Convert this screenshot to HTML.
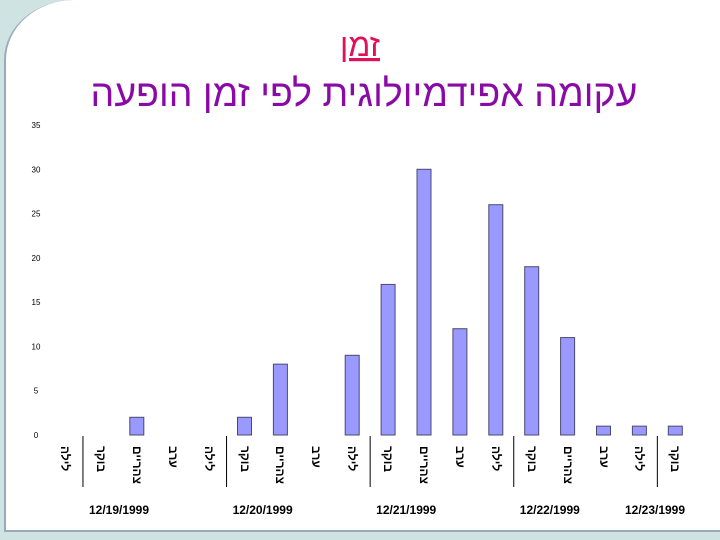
<!DOCTYPE html>
<html><head><meta charset="utf-8"><style>
body{margin:0;width:720px;height:540px;overflow:hidden;background:#cfe3e3;font-family:"Liberation Sans",sans-serif}
#slide{position:absolute;left:4px;top:0;width:716px;height:530px;background:#fff;border-top-left-radius:70px 60px;border-left:2px solid #9ab;border-bottom:2px solid #9ab}
.cat{position:absolute;top:446px;transform-origin:0 0;transform:rotate(90deg);white-space:nowrap;font-size:12px;font-weight:bold;direction:rtl;font-family:"Liberation Sans","Noto Sans CJK SC",sans-serif;line-height:14px}
</style></head><body>
<div id="slide"></div>
<svg width="720" height="540" style="position:absolute;left:0;top:0">
<text x="360" y="56" text-anchor="middle" font-size="32" fill="#e0105a" text-decoration="underline" font-family="'Liberation Sans','Noto Sans CJK SC',sans-serif">זמן</text>
<text x="364" y="106" text-anchor="middle" font-size="37.5" fill="#8a0aa8" font-family="'Liberation Sans','Noto Sans CJK SC',sans-serif">עקומה אפידמיולוגית לפי זמן הופעה</text>
<g id="g"></g>
</svg>
<div id="cats"></div>
<script>
const categories=["לילה","בוקר","צהריים","ערב","לילה","בוקר","צהריים","ערב","לילה","בוקר","צהריים","ערב","לילה","בוקר","צהריים","ערב","לילה","בוקר"];
const values=[0,0,2,0,0,2,8,0,9,17,30,12,26,19,11,1,1,1];
const yTicks=[0,5,10,15,20,25,30,35];
const dates=["12/19/1999","12/20/1999","12/21/1999","12/22/1999","12/23/1999"];
const NS="http://www.w3.org/2000/svg";
const g=document.getElementById('g');
const cats=document.getElementById('cats');
const y0=435,yTop=125,yMax=35;
const y=v=>y0-(v/yMax)*(y0-yTop);
const x=i=>65+i*35.9;
function mk(t,a){const e=document.createElementNS(NS,t);for(const k in a)e.setAttribute(k,a[k]);g.appendChild(e);return e;}
yTicks.forEach(t=>{const e=mk('text',{x:36,y:y(t)+3,'text-anchor':'middle','font-size':8,fill:'#000'});e.textContent=t;

});
values.forEach((v,i)=>{if(v<=0)return;const r=mk('rect',{x:x(i)-7,y:y(v),width:14,height:y0-y(v),fill:'#9999ff',stroke:'#4a4a70','stroke-width':1});

});
categories.forEach((c,i)=>{const d=document.createElement('div');d.className='cat';d.textContent=c;d.style.left=(x(i)+7)+'px';


cats.appendChild(d);});
for(let k=0;k<5;k++){const i=k*4;const lx=(x(i)+x(i+1))/2;
if(i+1<categories.length){const l=mk('line',{x1:lx,y1:436,x2:lx,y2:487,stroke:'#000','stroke-width':1});

}
const cx=k<4?119+k*143.6:655;
const t=mk('text',{x:cx,y:514,'text-anchor':'middle','font-size':12,'font-weight':'bold',fill:'#000'});t.textContent=dates[k];

}
</script>
</body></html>
